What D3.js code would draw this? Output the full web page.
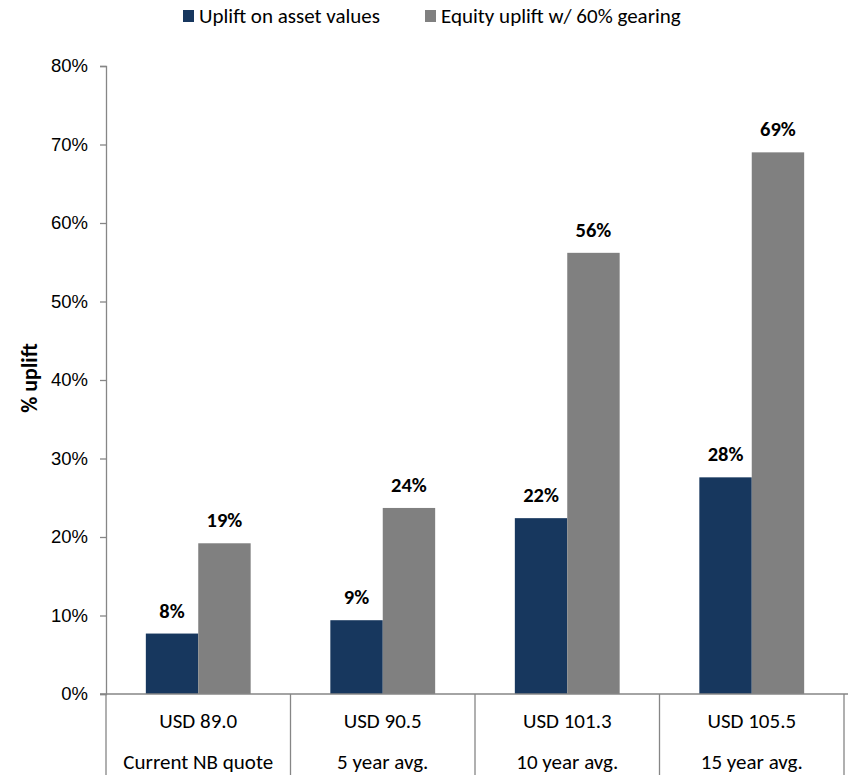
<!DOCTYPE html>
<html><head><meta charset="utf-8">
<script src="https://cdn.jsdelivr.net/npm/d3@7"></script>
<style>body{margin:0;background:#fff}svg{font-family:Carlito,Lato,"Open Sans",sans-serif}</style>
</head><body><svg id="c" width="848" height="775"></svg>
<script>
const prices = ["USD 89.0","USD 90.5","USD 101.3","USD 105.5"];
const categories = ["Current NB quote","5 year avg.","10 year avg.","15 year avg."];
const seriesNames = ["Uplift on asset values","Equity uplift w/ 60% gearing"];
const assetUplift = [7.7, 9.4, 22.4, 27.6];
const equityUplift = [19.2, 23.7, 56.2, 69.0];
const yTicks = [0,10,20,30,40,50,60,70,80];
const colors = ["#17375e","#808080"];

const svg = d3.select("#c");
const x0 = d3.scaleBand().domain(categories).range([106, 844]).paddingInner(0).paddingOuter(0);
const x1 = d3.scaleBand().domain([0,1]).range([0, x0.bandwidth()]).paddingOuter(0.76).paddingInner(0);
const y = d3.scaleLinear().domain([0,80]).range([694, 66]);

// y axis
const ya = svg.append("g").attr("transform","translate(106,0)")
  .call(d3.axisLeft(y).tickValues(yTicks).tickFormat(d=>d+"%").tickSize(6).tickPadding(12));
ya.select(".domain").attr("stroke","#868686").attr("stroke-width",1.3);
ya.selectAll(".tick line").attr("stroke","#868686").attr("stroke-width",1.3);
ya.selectAll(".tick text").attr("font-size",18.5).attr("fill","#000").attr("font-family",null);

// bars
const data = categories.map((c,i)=>({c, v:[assetUplift[i], equityUplift[i]]}));
const g = svg.append("g");
data.forEach(d=>{
  d.v.forEach((v,j)=>{
    const bx = x0(d.c)+x1(j);
    g.append("rect").attr("x",bx).attr("y",y(v)).attr("width",x1.bandwidth()).attr("height",y(0)-y(v)).attr("fill",colors[j]);
    g.append("text").attr("x",bx+x1.bandwidth()/2).attr("y",y(v)-16).attr("text-anchor","middle")
      .attr("font-size",20.5).attr("font-weight","bold").attr("fill","#000").text(Math.round(v)+"%");
  });
});

// x axis line and table
svg.append("line").attr("x1",100).attr("x2",848).attr("y1",694).attr("y2",694).attr("stroke","#868686").attr("stroke-width",1.3);
const seps = categories.map(c=>x0(c)).concat([x0.range()[1]]);
seps.forEach(sx=>{
  svg.append("line").attr("x1",sx).attr("x2",sx).attr("y1",694).attr("y2",775).attr("stroke","#868686").attr("stroke-width",1.3);
});
categories.forEach((c,i)=>{
  const cx = x0(c)+x0.bandwidth()/2;
  svg.append("text").attr("x",cx).attr("y",728).attr("text-anchor","middle").attr("font-size",21).attr("fill","#000").text(prices[i]);
  svg.append("text").attr("x",cx).attr("y",769).attr("text-anchor","middle").attr("font-size",21).attr("fill","#000").text(c);
});

// y title
svg.append("text").attr("transform","translate(37,378) rotate(-90)").attr("text-anchor","middle")
  .attr("font-size",22).attr("font-weight","bold").attr("fill","#000").text("% uplift");

// legend
const leg = [{x:183, t:seriesNames[0], c:colors[0]},{x:425, t:seriesNames[1], c:colors[1]}];
leg.forEach(l=>{
  svg.append("rect").attr("x",l.x).attr("y",10).attr("width",11).attr("height",12).attr("fill",l.c);
  svg.append("text").attr("x",l.x+16).attr("y",23).attr("font-size",21).attr("fill","#000").text(l.t);
});
</script></body></html>
